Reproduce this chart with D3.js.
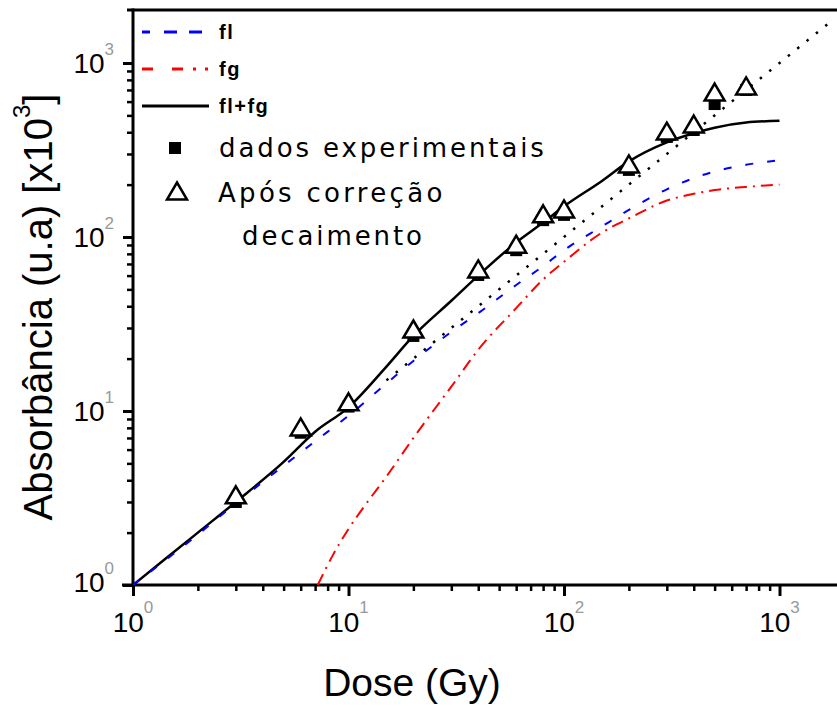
<!DOCTYPE html>
<html>
<head>
<meta charset="utf-8">
<script src="https://cdn.jsdelivr.net/npm/d3@7"></script>
<style>
  html, body { margin: 0; padding: 0; background: #ffffff; }
  svg { display: block; }
</style>
</head>
<body>
<svg id="chart" width="837" height="706"></svg>
<script>
// ---- data -------------------------------------------------------------
// fl component (dashed blue)
const flDose  = [1, 2, 3, 5, 7, 10, 15, 20, 30, 40, 60, 80, 100, 150, 200, 300, 400, 500, 700, 1000];
const flValue = [1, 1.95, 2.95, 4.85, 6.7, 9.4, 14.4, 19.4, 28.5, 36.5, 53, 68, 84, 115, 143, 188, 218, 238, 260, 276];

// fg component (dash-dot red)
const fgDose  = [7.2, 8.5, 10, 12, 15, 20, 25, 30, 40, 60, 80, 100, 150, 200, 300, 400, 500, 700, 1000];
const fgValue = [1, 1.5, 2.1, 2.9, 4.2, 7.0, 10.2, 13.8, 22.5, 39, 57, 72, 106, 128, 162, 177, 186, 194, 200];

// fl+fg (solid black)
const sumDose  = [1, 2, 3, 5, 7, 10, 15, 20, 30, 40, 60, 80, 100, 150, 200, 300, 400, 500, 700, 1000];
const sumValue = [1, 2.0, 3.0, 5.1, 7.6, 10.5, 18, 27, 43, 60, 93, 121, 150, 210, 272, 350, 395, 425, 455, 465];

// proportional reference (dotted black)
const refDose  = [15, 1700];
const refValue = [15, 1700];

// measured points
const pointDose    = [3, 6, 10, 20, 40, 60, 80, 100, 200, 300, 400, 500, 700];
const experimental = [3.0, 7.5, 10.6, 27, 60.5, 84, 125, 134, 243, 376, 412, 581, 700];
const corrected    = [3.3, 8.1, 11.3, 29.6, 65.5, 91, 136, 145, 263, 406, 446, 681, 738];

// ticks
const xMajor = [1, 10, 100, 1000];
const yMajor = [1, 10, 100, 1000];
const minorSteps = [2, 3, 4, 5, 6, 7, 8, 9];
const decades = [1, 10, 100];
const exponentLabels = ["0", "1", "2", "3"];

// labels
const xTitle = "Dose (Gy)";
const yTitle = "Absorbância (u.a) [x10";
const yTitleSup = "3";
const yTitleEnd = "]";
const legendLines = ["fl", "fg", "fl+fg"];
const legendExp = "dados experimentais";
const legendCorr = ["Após correção", "decaimento"];

// ---- layout -----------------------------------------------------------
const svg = d3.select("#chart");
const AX = "'Liberation Sans', Arial, sans-serif";
const LG = "'DejaVu Sans', Verdana, sans-serif";

const x = d3.scaleLog().domain([1, 1000]).range([133, 779.5]);
const y = d3.scaleLog().domain([1, 1000]).range([585, 63]);

const plotTop = 10, plotRight = 840;

// clip for the data region
svg.append("defs").append("clipPath").attr("id", "plot")
  .append("rect").attr("x", 133).attr("y", plotTop)
  .attr("width", plotRight - 133).attr("height", 585 - plotTop);

// ---- axes -------------------------------------------------------------
const minorVals = decades.flatMap(d => minorSteps.map(s => s * d));

function styleAxis(g, w) {
  g.select(".domain").remove();
  g.selectAll(".tick line").attr("stroke", "#000").attr("stroke-width", w);
  g.selectAll(".tick text").remove();
}

svg.append("g").attr("transform", "translate(0,585)")
  .call(d3.axisBottom(x).tickValues(minorVals).tickSize(6).tickFormat(""))
  .call(g => styleAxis(g, 2.5));
svg.append("g").attr("transform", "translate(0,585)")
  .call(d3.axisBottom(x).tickValues(xMajor).tickSize(11).tickFormat(""))
  .call(g => styleAxis(g, 3));

svg.append("g").attr("transform", "translate(133,0)")
  .call(d3.axisLeft(y).tickValues(minorVals).tickSize(6).tickFormat(""))
  .call(g => styleAxis(g, 2.5));
svg.append("g").attr("transform", "translate(133,0)")
  .call(d3.axisLeft(y).tickValues(yMajor).tickSize(10).tickFormat(""))
  .call(g => styleAxis(g, 3));

// frame lines
const frame = svg.append("g").attr("stroke", "#000").attr("stroke-width", 3);
frame.append("line").attr("x1", 133).attr("x2", 133).attr("y1", plotTop - 1.5).attr("y2", 586.5);
frame.append("line").attr("x1", 122).attr("x2", plotRight).attr("y1", 585).attr("y2", 585);
frame.append("line").attr("x1", 127).attr("x2", plotRight).attr("y1", plotTop).attr("y2", plotTop);

// tick labels (10 with exponent)
xMajor.forEach((v, i) => {
  const t = svg.append("text").attr("x", x(v)).attr("y", 632)
    .attr("text-anchor", "middle").attr("font-family", AX);
  t.append("tspan").attr("font-size", 28).attr("fill", "#000").text("10");
  t.append("tspan").attr("font-size", 17).attr("dy", -19).attr("fill", "#999").text(exponentLabels[i]);
});
yMajor.forEach((v, i) => {
  const t = svg.append("text").attr("x", 114).attr("y", y(v) + (i === 0 ? 7 : 10))
    .attr("text-anchor", "end").attr("font-family", AX);
  t.append("tspan").attr("font-size", 28).attr("fill", "#000").text("10");
  t.append("tspan").attr("font-size", 17).attr("dy", -18).attr("fill", "#999").text(exponentLabels[i]);
});

// axis titles
svg.append("text").attr("x", 412).attr("y", 696)
  .attr("text-anchor", "middle").attr("font-family", AX).attr("font-size", 39)
  .text(xTitle);

const yt = svg.append("text").attr("transform", "translate(52,307) rotate(-90)")
  .attr("text-anchor", "middle").attr("font-family", AX).attr("font-size", 40);
yt.append("tspan").text(yTitle);
yt.append("tspan").attr("font-size", 24).attr("dy", -22).text(yTitleSup);
yt.append("tspan").attr("dy", 22).text(yTitleEnd);

// ---- curves -----------------------------------------------------------
const line = d3.line().x(d => x(d[0])).y(d => y(d[1])).curve(d3.curveMonotoneX);
const plot = svg.append("g").attr("clip-path", "url(#plot)");

plot.append("path").datum(d3.zip(refDose, refValue)).attr("d", line)
  .attr("fill", "none").attr("stroke", "#000").attr("stroke-width", 2.5)
  .attr("stroke-dasharray", "2.5,9.5");

plot.append("path").datum(d3.zip(fgDose, fgValue)).attr("d", line)
  .attr("fill", "none").attr("stroke", "#ff0000").attr("stroke-width", 2)
  .attr("stroke-dasharray", "12,6,2,6");

plot.append("path").datum(d3.zip(sumDose, sumValue)).attr("d", line)
  .attr("fill", "none").attr("stroke", "#000").attr("stroke-width", 2.5);

plot.append("path").datum(d3.zip(flDose, flValue)).attr("d", line)
  .attr("fill", "none").attr("stroke", "#0000ff").attr("stroke-width", 2)
  .attr("stroke-dasharray", "8,14");

// ---- markers ----------------------------------------------------------
const triPath = "M0,-8.5L10,8.5L-10,8.5Z";

plot.selectAll("rect.exp").data(d3.zip(pointDose, experimental)).join("rect")
  .attr("class", "exp")
  .attr("x", d => x(d[0]) - 6).attr("y", d => y(d[1]) - 6)
  .attr("width", 12).attr("height", 12).attr("fill", "#000");

plot.selectAll("path.corr").data(d3.zip(pointDose, corrected)).join("path")
  .attr("class", "corr")
  .attr("transform", d => `translate(${x(d[0])},${y(d[1])})`)
  .attr("d", triPath).attr("fill", "#fff").attr("stroke", "#000").attr("stroke-width", 2.5);

// ---- legend -----------------------------------------------------------
const lg = svg.append("g");
const lineStyles = [
  { color: "#0000ff", dash: "8,14,13,12,13", y: 32 },
  { color: "#ff0000", dash: "11,19,11,10,3,9,3", y: 69 },
  { color: "#000000", dash: null, y: 106 }
];
lineStyles.forEach((s, i) => {
  lg.append("line").attr("x1", 142).attr("x2", 209).attr("y1", s.y).attr("y2", s.y)
    .attr("stroke", s.color).attr("stroke-width", 3)
    .attr("stroke-dasharray", s.dash);
  lg.append("text").attr("x", 219).attr("y", s.y + 7)
    .attr("font-family", AX).attr("font-size", 20).attr("font-weight", "bold")
    .attr("letter-spacing", 1.5).text(legendLines[i]);
});

lg.append("rect").attr("x", 169).attr("y", 142).attr("width", 12).attr("height", 12).attr("fill", "#000");
lg.append("text").attr("x", 219).attr("y", 157)
  .attr("font-family", LG).attr("font-size", 26).attr("letter-spacing", 2.9)
  .text(legendExp);

lg.append("path").attr("transform", "translate(177,191)").attr("d", triPath)
  .attr("fill", "#fff").attr("stroke", "#000").attr("stroke-width", 2.5);
lg.append("text").attr("x", 218).attr("y", 202)
  .attr("font-family", LG).attr("font-size", 26).attr("letter-spacing", 3.3)
  .text(legendCorr[0]);
lg.append("text").attr("x", 242).attr("y", 245)
  .attr("font-family", LG).attr("font-size", 26).attr("letter-spacing", 2.9)
  .text(legendCorr[1]);
</script>
</body>
</html>
